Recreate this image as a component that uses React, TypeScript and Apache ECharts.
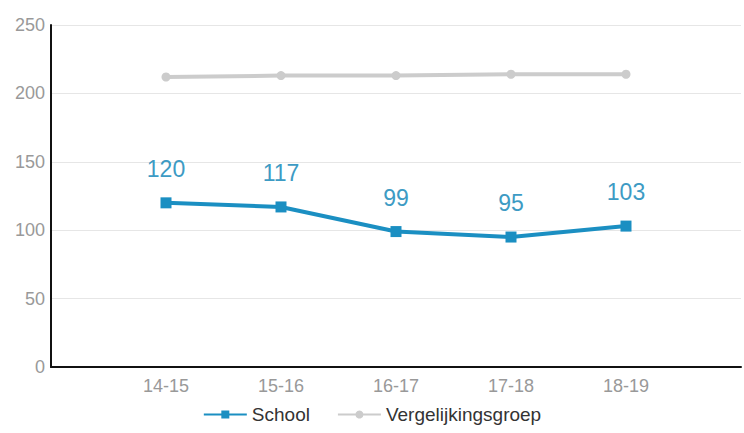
import React, { useEffect, useRef } from "react";
import * as echarts from "echarts";

const categories = ["", "14-15", "15-16", "16-17", "17-18", "18-19", ""];
const schoolValues = [null, 120, 117, 99, 95, 103, null];
const groupValues = [null, 212, 213, 213, 214, 214, null];
const yTicks = { min: 0, max: 250, interval: 50 };

export default function App() {
  const ref = useRef<HTMLDivElement>(null);
  useEffect(() => {
    const chart = echarts.init(ref.current!, null, { renderer: "svg" });
    const font = "Liberation Sans, Arial, sans-serif";
    chart.setOption({
      animation: false,
      grid: { left: 51, right: 0, top: 25, bottom: 66 },
      legend: {
        top: 405,
        left: "center",
        padding: 0,
        itemWidth: 43,
        itemHeight: 10,
        itemGap: 27,
        textStyle: { fontFamily: font, fontSize: 19, color: "#333" },
        data: ["School", "Vergelijkingsgroep"],
      },
      xAxis: {
        type: "category",
        data: categories,
        boundaryGap: false,
        axisLine: { lineStyle: { color: "#111", width: 2 } },
        axisTick: { show: false },
        axisLabel: { fontFamily: font, fontSize: 18, color: "#999", margin: 10 },
      },
      yAxis: {
        type: "value",
        min: yTicks.min,
        max: yTicks.max,
        interval: yTicks.interval,
        axisLine: { show: true, lineStyle: { color: "#111", width: 2 } },
        axisTick: { show: false },
        axisLabel: { fontFamily: font, fontSize: 18, color: "#999", margin: 6 },
        splitLine: { lineStyle: { color: "#e6e6e6", width: 1 } },
      },
      series: [
        {
          name: "Vergelijkingsgroep",
          type: "line",
          data: groupValues,
          symbol: "circle",
          symbolSize: 9,
          lineStyle: { color: "#cccccc", width: 4 },
          itemStyle: { color: "#cccccc" },
        },
        {
          name: "School",
          type: "line",
          data: schoolValues,
          symbol: "rect",
          symbolSize: 11,
          lineStyle: { color: "#1b8fc2", width: 4 },
          itemStyle: { color: "#1b8fc2" },
          label: {
            show: true,
            position: "top",
            distance: 17,
            fontFamily: font,
            fontSize: 23,
            color: "#3d9bc4",
          },
        },
      ],
    });
    return () => chart.dispose();
  }, []);
  return <div ref={ref} style={{ width: 744, height: 433, position: "absolute", left: 0, top: 0 }} />;
}
